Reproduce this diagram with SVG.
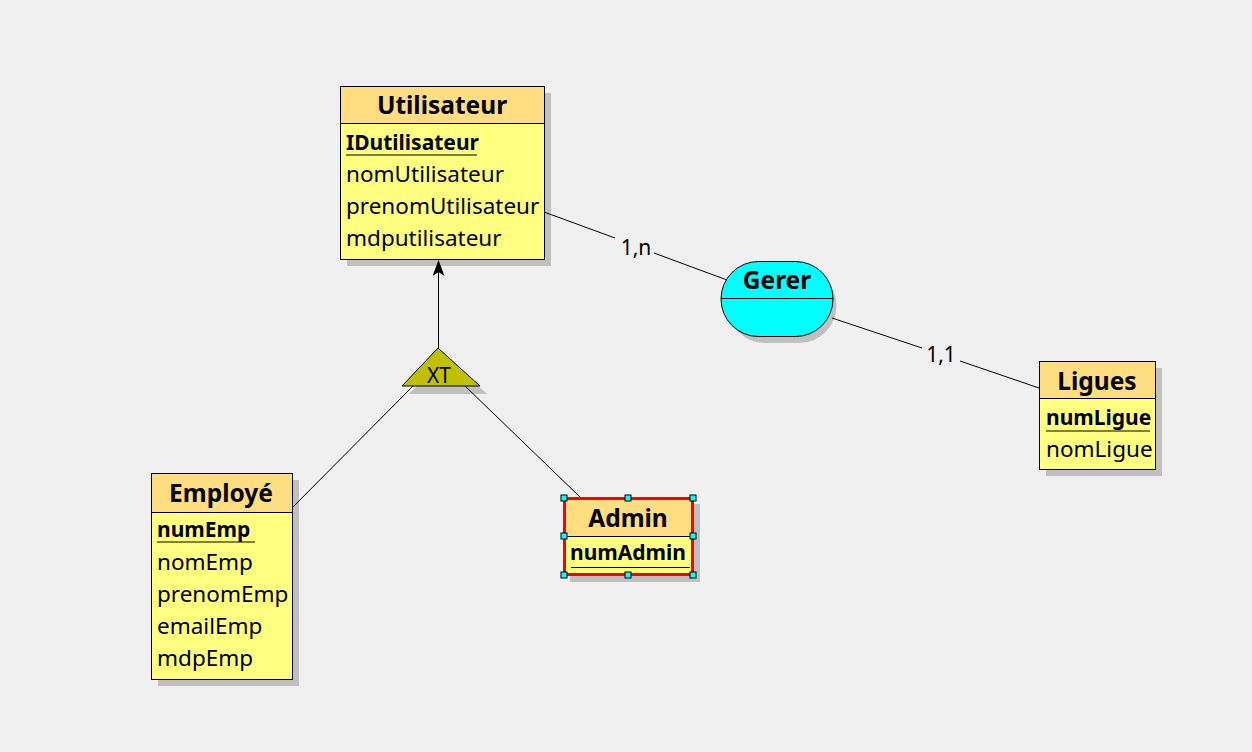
<svg xmlns="http://www.w3.org/2000/svg" width="1252" height="752" viewBox="0 0 1252 752">
<style>
text{font-family:"Noto Sans","Open Sans","Liberation Sans",sans-serif;fill:#000}
.t{font-size:24.5px;font-weight:bold;text-anchor:middle}
.a{font-size:22.5px}
.k{font-size:21px;font-weight:bold}
.hd{fill:#ffdd80;stroke:#000;stroke-width:1}
.bd{fill:#ffff80;stroke:#000;stroke-width:1}
.sh{fill:#c0c0c0}
.ln{stroke:#000;stroke-width:1;fill:none}
.lbl{font-size:21px}
.hdl{fill:#00ffff;stroke:#000;stroke-width:1}
</style>
<defs>
<marker id="arr" markerWidth="16" markerHeight="12" refX="15" refY="6" orient="auto" markerUnits="userSpaceOnUse" viewBox="0 0 16 12">
<path d="M16,6 L0,0 L4,6 L0,12 Z" fill="#000"/>
</marker>
</defs>
<rect width="1252" height="752" fill="#f0f0f0"/>
<g id="Utilisateur">
<rect class="sh" x="347" y="93" width="204" height="173"/>
<rect class="bd" x="340.5" y="86.5" width="204" height="173"/>
<rect class="hd" x="340.5" y="86.5" width="204" height="37"/>
<text class="t" x="442" y="114">Utilisateur</text>
<text class="k" x="346" y="150">IDutilisateur</text>
<line class="ln" x1="346" y1="155" x2="477" y2="155"/>
<text class="a" x="346" y="182">nomUtilisateur</text>
<text class="a" x="346" y="214">prenomUtilisateur</text>
<text class="a" x="346" y="246">mdputilisateur</text>
</g>
<g id="XT">
<polygon points="445,356 487,394 409,394" fill="#c0c0c0"/>
<polygon points="438,348 480,386 402,386" fill="#c0c000" stroke="#000" stroke-width="1"/>
<text x="439" y="383" font-size="21" text-anchor="middle">XT</text>
</g>
<g id="Gerer">
<path d="M766,268 L800,268 A37,37 0 0 1 800,343 L766,343 A37,37 0 0 1 766,268 Z" fill="#c0c0c0" transform="translate(-1,0)"/>
<path d="M758.5,261.5 L795.5,261.5 A37.5,37.5 0 0 1 795.5,336.5 L758.5,336.5 A37.5,37.5 0 0 1 758.5,261.5 Z" fill="#00ffff" stroke="#000" stroke-width="1"/>
<line class="ln" x1="721" y1="298.5" x2="833" y2="298.5"/>
<text class="t" x="777" y="289">Gerer</text>
</g>
<g id="Ligues">
<rect class="sh" x="1046" y="368" width="116" height="108"/>
<rect class="bd" x="1039.5" y="361.5" width="116" height="108"/>
<rect class="hd" x="1039.5" y="361.5" width="116" height="37"/>
<text class="t" x="1097" y="390">Ligues</text>
<text class="k" x="1046" y="425">numLigue</text>
<line class="ln" x1="1046" y1="431" x2="1150" y2="431"/>
<text class="a" x="1046" y="457">nomLigue</text>
</g>
<g id="Employe">
<rect class="sh" x="158" y="480" width="141" height="206"/>
<rect class="bd" x="151.5" y="473.5" width="141" height="206"/>
<rect class="hd" x="151.5" y="473.5" width="141" height="39"/>
<text class="t" x="221" y="502">Employé</text>
<text class="k" x="157" y="537">numEmp</text>
<line class="ln" x1="157" y1="542" x2="255" y2="542"/>
<text class="a" x="157" y="570">nomEmp</text>
<text class="a" x="157" y="602">prenomEmp</text>
<text class="a" x="157" y="634">emailEmp</text>
<text class="a" x="157" y="666">mdpEmp</text>
</g>
<g id="Admin">
<rect class="sh" x="570" y="504" width="130" height="78"/>
<rect class="bd" x="564.5" y="498.5" width="128" height="76"/>
<rect class="hd" x="564.5" y="498.5" width="128" height="38"/>
<text class="t" x="628" y="527">Admin</text>
<text class="k" x="570" y="560">numAdmin</text>
<line class="ln" x1="571" y1="567.5" x2="690" y2="567.5"/>
<rect x="564.5" y="498.5" width="128" height="76" fill="none" stroke="#ff0000" stroke-width="3"/>
<g class="hdl">
<rect x="561" y="495" width="6" height="6"/>
<rect x="625" y="495" width="6" height="6"/>
<rect x="690" y="495" width="6" height="6"/>
<rect x="561" y="533" width="6" height="6"/>
<rect x="690" y="533" width="6" height="6"/>
<rect x="561" y="572" width="6" height="6"/>
<rect x="625" y="572" width="6" height="6"/>
<rect x="690" y="572" width="6" height="6"/>
</g>
</g>
<g id="connectors">
<line class="ln" x1="438.5" y1="348" x2="438.5" y2="261" marker-end="url(#arr)"/>
<line class="ln" x1="413" y1="386" x2="292" y2="508"/>
<line class="ln" x1="465" y1="386" x2="580" y2="497"/>
<line class="ln" x1="544" y1="212" x2="615" y2="238"/>
<line class="ln" x1="654" y1="253" x2="727" y2="280"/>
<line class="ln" x1="832" y1="318" x2="922" y2="348"/>
<line class="ln" x1="960" y1="361" x2="1039" y2="388"/>
<text class="lbl" x="636" y="255" text-anchor="middle">1,n</text>
<text class="lbl" x="941" y="362" text-anchor="middle">1,1</text>
</g>
</svg>
